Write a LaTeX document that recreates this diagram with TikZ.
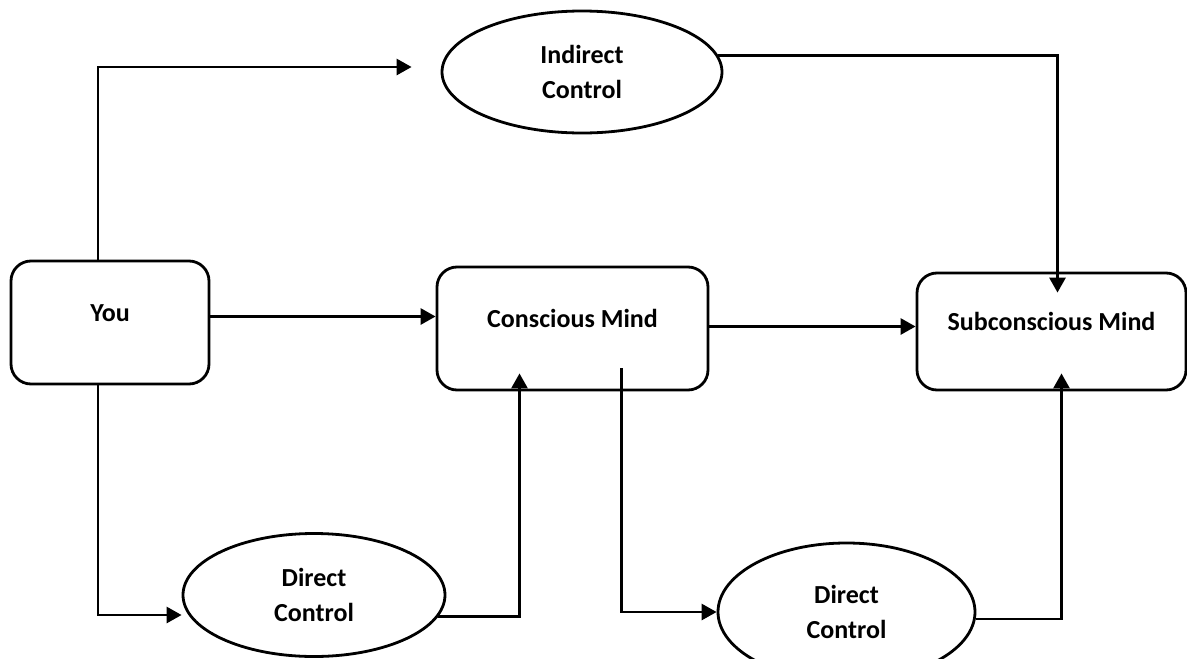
\documentclass[tikz,border=0pt]{standalone}
\usepackage{fontspec}
\setmainfont{Carlito}
\usetikzlibrary{shapes.geometric}
\usetikzlibrary{arrows.meta}
\tikzstyle{mindbox}=[draw, line width=2.8pt, rounded corners=20pt, inner sep=0pt, text height=18pt, text depth=21pt, font=\bfseries\fontsize{26}{35}\selectfont]
\tikzstyle{ctrl}=[draw, ellipse, line width=2.8pt, inner sep=0pt, align=center, font=\bfseries\fontsize{26}{35}\selectfont]
\tikzstyle{link}=[line width=2.8pt, -{Triangle[length=15pt,width=16pt]}]

\begin{document}
\begin{tikzpicture}[x=1pt, y=-1pt]
	\useasboundingbox (0,0) rectangle (1187,659);

	\node[mindbox, minimum width=198pt, minimum height=123pt] (you) at (110,322.5) {You};%boxes
	\node[mindbox, minimum width=271pt, minimum height=123pt] (conscious) at (572.5,328.5) {Conscious Mind};
	\node[mindbox, minimum width=269pt, minimum height=117pt] (sub) at (1051.5,331.5) {Subconscious Mind};

	\node[ctrl, minimum width=280pt, minimum height=122pt] (indirect) at (582,72) {Indirect\\Control};%ellipses
	\node[ctrl, minimum width=262pt, minimum height=123pt] (dc1) at (314,595) {Direct\\Control};
	\node[ctrl, minimum width=257pt, minimum height=138pt] (dc2) at (846.5,612) {Direct\\Control};

	\draw[link] ([xshift=-12pt]you.north) |- ([xshift=-29pt,yshift=5pt]indirect.west);%top path
	\draw[link] (indirect.7) -| ([xshift=6pt,yshift=-21pt]sub.north);

	\draw[link] ([yshift=6pt]you.east) -- ([yshift=6pt]you.east -| conscious.west);%middle row
	\draw[link] ([yshift=2pt]conscious.east) -- ([yshift=2pt]conscious.east -| sub.west);

	\draw[link] ([xshift=-12pt]you.south) |- ([yshift=-20pt]dc1.west);%bottom paths
	\draw[link] (dc1.350) -| ([xshift=-53pt,yshift=18pt]conscious.south);
	\draw[link] ([xshift=49pt,yshift=23pt]conscious.south) |- (dc2.west);
	\draw[link] ([yshift=-7pt]dc2.east) -| ([xshift=10pt,yshift=18pt]sub.south);
\end{tikzpicture}
\end{document}
